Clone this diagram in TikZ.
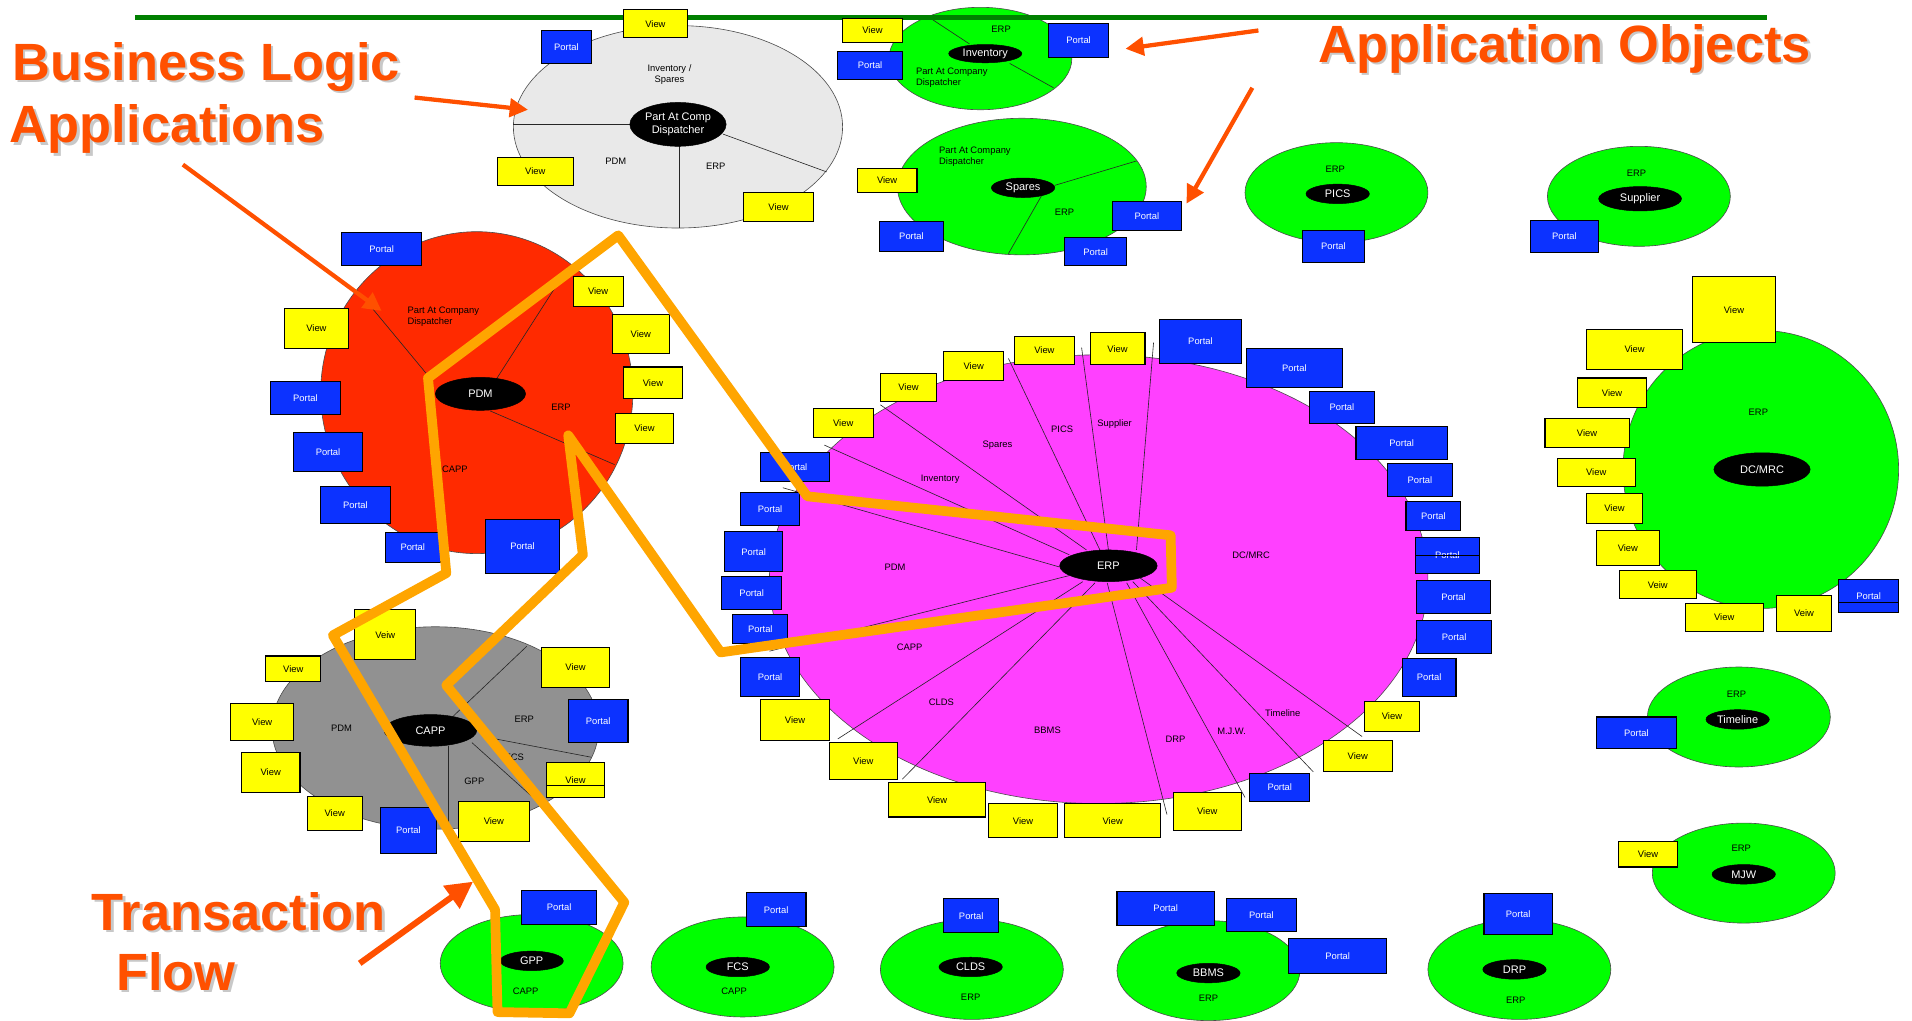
\documentclass[tikz,border=0pt]{standalone}
\usepackage{fontspec}
\setmainfont{Liberation Sans}
\usetikzlibrary{shapes.geometric,arrows.meta}
\definecolor{bgreen}{RGB}{0,255,0}
\definecolor{lgray}{RGB}{233,233,233}
\definecolor{mgray}{RGB}{145,145,145}
\definecolor{pdmred}{RGB}{255,42,0}
\definecolor{erpmag}{RGB}{255,64,255}
\definecolor{pblue}{RGB}{12,50,255}
\definecolor{vyellow}{RGB}{255,255,0}
\definecolor{flow}{RGB}{255,165,0}
\definecolor{callout}{RGB}{255,80,0}
\definecolor{linegreen}{RGB}{0,128,0}
\definecolor{shadowgray}{RGB}{200,200,200}
\tikzset{
 viewbox/.style={draw=black, line width=0.9pt, fill=vyellow, inner sep=0pt, font=\fontsize{7.7}{9}\selectfont, text=black},
 portalbox/.style={draw=black, line width=0.9pt, fill=pblue, inner sep=0pt, font=\fontsize{7.7}{9}\selectfont, text=white},
 core/.style={ellipse, fill=black, draw=black, inner sep=0pt, text=white, font=\fontsize{9}{10}\selectfont, align=center},
 app/.style={ellipse, draw=black!70, line width=0.5pt, inner sep=0pt},
 lbl/.style={inner sep=0pt, font=\fontsize{7.7}{9}\selectfont, align=center, text=black},
 spoke/.style={draw=black!85, line width=0.5pt},
 callarrow/.style={draw=callout, line width=3.5pt, -{Triangle[length=15pt,width=15pt]}},
 bigarrow/.style={draw=callout, line width=5pt, -{Triangle[length=22pt,width=22pt]}},
 flowline/.style={draw=flow, line width=8pt, line join=round},
 title/.style={inner sep=0pt, anchor=base west, font=\bfseries\fontsize{43}{43}\selectfont, text=callout},
 titleshadow/.style={title, text=shadowgray},
}
\newcommand\mkbx[7]{\node[#1,minimum width={(#5)-(#3)},minimum height={(#6)-(#4)}] (#2) at ({((#3)+(#5))/2},{((#4)+(#6))/2}) {#7};}
\newcommand\mkell[7]{\node[#1,minimum width={2*(#5)},minimum height={2*(#6)}] (#2) at (#3,#4) {#7};}
\begin{document}
\begin{tikzpicture}[x=1pt,y=-1pt]
\useasboundingbox (0,0) rectangle (1568,837);

% ---------- top gray cluster ----------
\mkell{app,fill=lgray}{gTop}{556}{104}{135}{83}{}
\draw[spoke,line width=0.8pt] (421,102) -- (518,102);
\draw[spoke,line width=0.8pt] (557,118) -- (557,187);
\draw[spoke] (593,110) -- (678,141);
\mkell{core}{cTop}{556}{102}{39.5}{18}{Part At Comp\\Dispatcher}
\node[lbl] (lTop1) at (549,61) {Inventory /\\Spares};
\node[lbl] (lTop2) at (505,132) {PDM};
\node[lbl] (lTop3) at (587,136) {ERP};

% ---------- Inventory ----------
\mkell{app,fill=bgreen}{gInv}{804}{48}{75}{42}{}
\draw[spoke] (760,13) -- (795,36);
\draw[spoke] (828,52) -- (864,72);
\mkell{core}{cInv}{808}{44}{30}{7.5}{Inventory}
\node[lbl] (lInv1) at (821,24) {ERP};
\node[lbl,anchor=west,align=left] (lInv2) at (751,63.5) {Part At Company\\Dispatcher};

% ---------- Spares ----------
\mkell{app,fill=bgreen}{gSpa}{838}{153}{102}{56}{}
\draw[spoke] (865,152) -- (932,132);
\draw[spoke] (855,159) -- (827,208);
\mkell{core}{cSpa}{839}{154}{26}{8}{Spares}
\node[lbl,anchor=west,align=left] (lSpa1) at (770,128.5) {Part At Company\\Dispatcher};
\node[lbl] (lSpa2) at (873,174) {ERP};

% ---------- PICS / Supplier ----------
\mkell{app,fill=bgreen}{gPics}{1096}{158}{75}{41}{}
\mkell{core}{cPics}{1097}{159}{26}{8}{PICS}
\node[lbl] (lPics) at (1095,139) {ERP};
\mkell{app,fill=bgreen}{gSup}{1344}{161}{75}{41}{}
\mkell{core}{cSup}{1345}{163}{34}{10}{Supplier}
\node[lbl] (lSup) at (1342,142) {ERP};

% ---------- Red PDM ----------
\mkell{app,fill=pdmred}{gPdm}{391}{322}{128}{132}{}
\draw[spoke] (351,308) -- (293,238);
\draw[spoke] (407,311) -- (466,219);
\draw[spoke] (402,337) -- (504,381);
\mkell{core}{cPdm}{394}{323}{37}{13.5}{PDM}
\node[lbl,anchor=west,align=left] (lPdm1) at (334,259.5) {Part At Company\\Dispatcher};
\node[lbl] (lPdm2) at (460,334) {ERP};
\node[lbl] (lPdm3) at (373,385) {CAPP};

% ---------- Magenta ERP ----------
\mkell{app,fill=erpmag}{gErp}{901}{475}{270}{184}{}
\draw[spoke] (642,400) -- (869,465);
\draw[spoke] (676,365) -- (877,455);
\draw[spoke] (722,332) -- (891,451);
\draw[spoke] (827,294) -- (902,451);
\draw[spoke] (887,285) -- (909,451);
\draw[spoke] (946,281) -- (932,451);
\draw[spoke] (631,534) -- (877,472);
\draw[spoke] (687,606) -- (888,477);
\draw[spoke] (740,639) -- (898,478);
\draw[spoke] (957,668) -- (908,478);
\draw[spoke] (1021,654) -- (924,478);
\draw[spoke] (1077,633) -- (929,477);
\draw[spoke] (1117,604) -- (935,474);
\mkell{core}{cErp}{909}{464}{40}{13}{ERP}
\node[lbl] (lE1) at (771,393) {Inventory};
\node[lbl] (lE2) at (818,365) {Spares};
\node[lbl] (lE3) at (871,352) {PICS};
\node[lbl] (lE4) at (914,348) {Supplier};
\node[lbl] (lE5) at (734,465) {PDM};
\node[lbl] (lE6) at (746,531) {CAPP};
\node[lbl] (lE7) at (772,576) {CLDS};
\node[lbl] (lE8) at (859,599) {BBMS};
\node[lbl] (lE9) at (964,606) {DRP};
\node[lbl] (lE10) at (1010,600) {M.J.W.};
\node[lbl] (lE11) at (1052,585) {Timeline};
\node[lbl] (lE12) at (1026,455) {DC/MRC};

% ---------- DC/MRC ----------
\mkell{app,fill=bgreen}{gDc}{1444}{385}{113}{114}{}
\mkell{core}{cDc}{1445}{385}{39.5}{13.7}{DC/MRC}
\node[lbl] (lDc) at (1442,338) {ERP};

% ---------- CAPP gray ----------
\mkell{app,fill=mgray}{gCapp}{357}{597}{134}{83}{}
\draw[spoke] (372,587) -- (432,530);
\draw[spoke] (396,604) -- (485,621);
\draw[spoke] (387,609) -- (436,653);
\draw[spoke,line width=0.8pt] (368,612) -- (368,681);
\mkell{core}{cCapp}{353}{599}{38}{13}{CAPP}
\node[lbl] (lC1) at (280,597) {PDM};
\node[lbl] (lC2) at (430,590) {ERP};
\node[lbl] (lC3) at (422,621) {FCS};
\node[lbl] (lC4) at (389,641) {GPP};

% ---------- small application objects ----------
\mkell{app,fill=bgreen}{gTim}{1426}{588}{75}{41}{}
\mkell{core}{cTim}{1425}{590}{26}{8}{Timeline}
\node[lbl] (lTim) at (1424,569) {ERP};
\mkell{app,fill=bgreen}{gMjw}{1430}{716}{75}{41}{}
\mkell{core}{cMjw}{1430}{717}{26}{8}{MJW}
\node[lbl] (lMjw) at (1428,696) {ERP};
\mkell{app,fill=bgreen}{gGpp}{436}{790}{75}{40}{}
\mkell{core}{cGpp}{436}{788}{26}{8}{GPP}
\node[lbl] (lGpp) at (431,813) {CAPP};
\mkell{app,fill=bgreen}{gFcs}{609}{793}{75}{41}{}
\mkell{core}{cFcs}{605}{793}{26}{8}{FCS}
\node[lbl] (lFcs) at (602,813) {CAPP};
\mkell{app,fill=bgreen}{gClds}{797}{795}{75}{41}{}
\mkell{core}{cClds}{796}{793}{26}{8}{CLDS}
\node[lbl] (lClds) at (796,818) {ERP};
\mkell{app,fill=bgreen}{gBbms}{991}{796}{75}{41}{}
\mkell{core}{cBbms}{991}{798}{26}{8}{BBMS}
\node[lbl] (lBbms) at (991,819) {ERP};
\mkell{app,fill=bgreen}{gDrp}{1246}{795}{75}{41}{}
\mkell{core}{cDrp}{1242}{795}{26}{8}{DRP}
\node[lbl] (lDrp) at (1243,820) {ERP};

% ---------- green rule ----------
\draw[linegreen,line width=4pt] (111,14) -- (1449,14);

% ---------- boxes: top gray ----------
\mkbx{viewbox}{b1}{511}{8}{564}{31}{View}
\mkbx{portalbox}{b2}{444}{25}{485}{52}{Portal}
\mkbx{viewbox}{b3}{408}{129}{470}{152}{View}
\mkbx{viewbox}{b4}{610}{158}{667}{182}{View}
% Inventory
\mkbx{viewbox}{b5}{691}{15}{740}{35}{View}
\mkbx{portalbox}{b6}{687}{42}{740}{65}{Portal}
\mkbx{portalbox}{b7}{860}{19}{909}{47}{Portal}
% Spares
\mkbx{viewbox}{b8}{703}{138}{752}{158}{View}
\mkbx{portalbox}{b9}{721}{182}{774}{206}{Portal}
\mkbx{portalbox}{b10}{912}{165}{969}{189}{Portal}
\mkbx{portalbox}{b11}{873}{195}{924}{218}{Portal}
% PICS / Supplier
\mkbx{portalbox}{b12}{1068}{189}{1119}{215}{Portal}
\mkbx{portalbox}{b13}{1255}{181}{1311}{207}{Portal}
% Red PDM
\mkbx{portalbox}{b14}{280}{191}{346}{218}{Portal}
\mkbx{viewbox}{b15}{233}{253}{286}{286}{View}
\mkbx{portalbox}{b16}{222}{313}{279}{340}{Portal}
\mkbx{portalbox}{b17}{241}{355}{297}{387}{Portal}
\mkbx{portalbox}{b18}{263}{399}{320}{429}{Portal}
\mkbx{portalbox}{b19}{316}{437}{361}{461}{Portal}
\mkbx{portalbox}{b20}{398}{426}{459}{470}{Portal}
\mkbx{viewbox}{b21}{470}{227}{511}{251}{View}
\mkbx{viewbox}{b22}{502}{258}{549}{290}{View}
\mkbx{viewbox}{b23}{511}{301}{560}{327}{View}
\mkbx{viewbox}{b24}{505}{339}{552}{364}{View}
% Magenta ERP
\mkbx{viewbox}{b25}{667}{335}{716}{359}{View}
\mkbx{viewbox}{b26}{722}{306}{768}{329}{View}
\mkbx{viewbox}{b27}{774}{288}{823}{312}{View}
\mkbx{viewbox}{b28}{832}{276}{881}{299}{View}
\mkbx{viewbox}{b29}{894}{273}{939}{299}{View}
\mkbx{portalbox}{b30}{951}{262}{1018}{298}{Portal}
\mkbx{portalbox}{b31}{1022}{286}{1101}{318}{Portal}
\mkbx{portalbox}{b32}{1074}{321}{1127}{347}{Portal}
\mkbx{portalbox}{b33}{1112}{350}{1187}{377}{Portal}
\mkbx{portalbox}{b34}{1138}{380}{1191}{407}{Portal}
\mkbx{portalbox}{b35}{1153}{411}{1198}{435}{Portal}
\mkbx{portalbox}{b36}{1161}{441}{1213}{470}{Portal}
\draw[black,line width=0.9pt] (b36.west) -- (b36.east);
\mkbx{portalbox}{b37}{1162}{476}{1222}{503}{Portal}
\mkbx{portalbox}{b38}{1162}{509}{1223}{536}{Portal}
\mkbx{portalbox}{b39}{1150}{540}{1194}{571}{Portal}
\mkbx{viewbox}{b40}{1119}{575}{1164}{600}{View}
\mkbx{viewbox}{b41}{1085}{607}{1142}{633}{View}
\mkbx{portalbox}{b42}{1025}{634}{1074}{657}{Portal}
\mkbx{viewbox}{b43}{962}{650}{1018}{681}{View}
\mkbx{viewbox}{b44}{873}{659}{952}{687}{View}
\mkbx{viewbox}{b45}{811}{659}{867}{687}{View}
\mkbx{viewbox}{b46}{729}{642}{808}{670}{View}
\mkbx{viewbox}{b47}{680}{609}{736}{639}{View}
\mkbx{viewbox}{b48}{624}{574}{680}{607}{View}
\mkbx{portalbox}{b49}{607}{539}{656}{571}{Portal}
\mkbx{portalbox}{b50}{601}{504}{646}{528}{Portal}
\mkbx{portalbox}{b51}{592}{473}{641}{500}{Portal}
\mkbx{portalbox}{b52}{594}{436}{642}{469}{Portal}
\mkbx{portalbox}{b53}{607}{404}{656}{431}{Portal}
\mkbx{portalbox}{b54}{624}{371}{680}{395}{Portal}
% DC/MRC
\mkbx{viewbox}{b55}{1388}{227}{1456}{281}{View}
\mkbx{viewbox}{b56}{1301}{270}{1380}{303}{View}
\mkbx{viewbox}{b57}{1294}{310}{1350}{334}{View}
\mkbx{viewbox}{b58}{1267}{343}{1336}{367}{View}
\mkbx{viewbox}{b59}{1277}{376}{1341}{399}{View}
\mkbx{viewbox}{b60}{1301}{405}{1347}{429}{View}
\mkbx{viewbox}{b61}{1309}{435}{1361}{464}{View}
\mkbx{viewbox}{b62}{1328}{468}{1391}{491}{Veiw}
\mkbx{viewbox}{b63}{1382}{495}{1446}{518}{View}
\mkbx{viewbox}{b64}{1457}{488}{1502}{518}{Veiw}
\mkbx{portalbox}{b65}{1508}{475}{1557}{502}{Portal}
\draw[black,line width=0.9pt] (1508,494) -- (1557,494);
% CAPP gray
\mkbx{viewbox}{b66}{291}{500}{341}{541}{Veiw}
\mkbx{viewbox}{b67}{218}{538}{263}{559}{View}
\mkbx{viewbox}{b68}{189}{577}{241}{607}{View}
\mkbx{viewbox}{b69}{198}{617}{246}{650}{View}
\mkbx{viewbox}{b70}{252}{653}{297}{681}{View}
\mkbx{portalbox}{b71}{312}{662}{358}{700}{Portal}
\mkbx{viewbox}{b72}{376}{657}{434}{690}{View}
\mkbx{viewbox}{b73}{448}{625}{496}{654}{View}
\draw[black,line width=0.9pt] (448,644) -- (496,644);
\mkbx{viewbox}{b74}{444}{531}{500}{564}{View}
\mkbx{portalbox}{b75}{466}{574}{515}{609}{Portal}
% small objects
\mkbx{portalbox}{b76}{1309}{588}{1375}{614}{Portal}
\mkbx{viewbox}{b77}{1327}{690}{1376}{711}{View}
\mkbx{portalbox}{b78}{428}{730}{489}{758}{Portal}
\mkbx{portalbox}{b79}{612}{732}{661}{760}{Portal}
\mkbx{portalbox}{b80}{774}{737}{819}{765}{Portal}
\mkbx{portalbox}{b81}{916}{731}{996}{759}{Portal}
\mkbx{portalbox}{b82}{1006}{737}{1063}{764}{Portal}
\mkbx{portalbox}{b83}{1057}{770}{1137}{798}{Portal}
\mkbx{portalbox}{b84}{1217}{733}{1273}{766}{Portal}

% ---------- transaction flow ----------
\draw[flowline] (366,470) -- (273,521) -- (406,746) -- (408,830) -- (467,831) -- (512,740) -- (366,562) -- (478,455) -- (466,357) -- (591,535) -- (961,482) -- (960,439) -- (662,407) -- (507,193) -- (351,310) -- cycle;

% ---------- callout arrows ----------
\coordinate (a1s) at (340,80);   \coordinate (a1e) at (433,90);
\coordinate (a2s) at (150,135);  \coordinate (a2e) at (313,255);
\coordinate (a3s) at (1032,25);  \coordinate (a3e) at (923,40);
\coordinate (a4s) at (1027,72);  \coordinate (a4e) at (973,167);
\coordinate (a5s) at (295,790);  \coordinate (a5e) at (388,723);
\draw[callarrow] (a1s) -- (a1e);
\draw[callarrow] (a2s) -- (a2e);
\draw[callarrow] (a3s) -- (a3e);
\draw[callarrow] (a4s) -- (a4e);
\draw[bigarrow] (a5s) -- (a5e);

% ---------- titles ----------
\node[titleshadow] (t1s) at (12,68) {Business Logic};
\node[title] (t1) at (10,66) {Business Logic};
\node[titleshadow] (t2s) at (10,119) {Applications};
\node[title] (t2) at (8,117) {Applications};
\node[titleshadow] (t3s) at (1083,53) {Application Objects};
\node[title] (t3) at (1081,51) {Application Objects};
\node[titleshadow] (t4s) at (77,765) {Transaction};
\node[title] (t4) at (75,763) {Transaction};
\node[titleshadow] (t5s) at (97,814) {Flow};
\node[title] (t5) at (95,812) {Flow};
\end{tikzpicture}
\end{document}
